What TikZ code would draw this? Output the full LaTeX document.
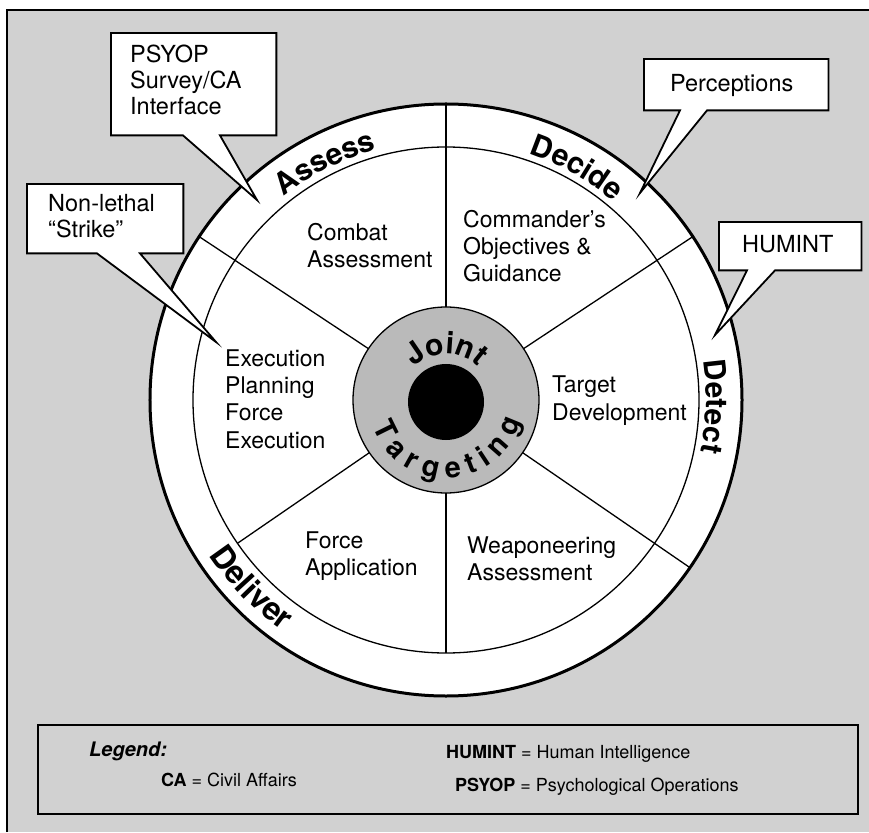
\documentclass[tikz,border=0pt]{standalone}
\usepackage{fontspec}
\setmainfont{TeX Gyre Heros}
\usetikzlibrary{decorations.text}
\definecolor{paper}{gray}{0.82}
\definecolor{hub}{gray}{0.73}

\tikzset{
  rim/.style={line width=3pt},
  ring/.style={line width=1.3pt},
  cell/.style={anchor=base west, align=left, inner sep=0pt, font=\fontsize{23}{27}\selectfont},
  balloon/.style={draw=none, inner sep=0pt, anchor=north west},
  bubble/.style={fill=white, line width=1.8pt, line join=miter},
  bubtext/.style={anchor=base west, align=left, inner sep=0pt, font=\fontsize{23.5}{26}\selectfont},
  legtext/.style={anchor=base west, inner sep=0pt, font=\fontsize{18}{20}\selectfont},
}
% curved label: [size] start angle, end angle, radius, text
\newcommand\arclabel[5][30]{\path[decorate,decoration={text along path,text align=center,
  text={|\fontsize{#1}{#1}\selectfont\bfseries|#5}}] (#2:#4) arc[start angle=#2,end angle=#3,radius=#4];}

\begin{document}
\begin{tikzpicture}[x=1pt,y=1pt]
    \useasboundingbox (-446,-432) rectangle (423,400);
    \fill[paper] (-439,-432) rectangle (423,390);
    \draw[line width=1.5pt] (-439,-432) -- (-439,390) -- (423,390);

    % the wheel
    \filldraw[fill=white, rim] (0,0) circle[radius=296];
    \draw[ring] (0,0) circle[radius=253];
    \foreach \a in {90,33.5,146.5,-34.5}
        \draw[ring] (\a:93) -- (\a:296);
    \foreach \a in {214.5,270}
        \draw[ring] (\a:93) -- (\a:253);
    \filldraw[fill=hub, ring] (0,0) circle[radius=93];
    \fill (0,-2) circle[radius=38];

    \arclabel[30]{180}{0}{46}{Joint}
    \arclabel[29]{182}{362}{78}{T a r g e t i n g}
    \arclabel{167}{67}{260}{Assess}
    \arclabel{110.6}{10.6}{260}{Decide}
    \arclabel{48.6}{-51.4}{260}{Detect}
    \arclabel[32]{174}{274}{283}{Deliver}

    % base anchor sits on the last line
    \node[cell] (combat) at (-139,132) {Combat\\Assessment};
    \node[cell] (guidance) at (17,118) {Commander's\\Objectives \&\\Guidance};
    \node[cell] (execution) at (-221,-48) {Execution\\Planning\\Force\\Execution};
    \node[cell] (target) at (106,-20) {Target\\Development};
    \node[cell] (force) at (-141,-175) {Force\\Application};
    \node[cell] (weapon) at (21,-180) {Weaponeering\\Assessment};

    % callouts
    \node[balloon, minimum width=165pt, minimum height=102pt] (psyop) at (-335,367) {};
    \coordinate (psyoptip) at (-189,200);
    \filldraw[bubble] (psyop.south west) -- (psyop.north west) -- (psyop.north east) -- (psyop.south east)
        -- ([xshift=109pt]psyop.south west) -- (psyoptip) -- ([xshift=72pt]psyop.south west) -- cycle;
    \node[bubtext] (psyoptext) at (-316,285) {PSYOP\\Survey/CA\\Interface};

    \node[balloon, minimum width=184pt, minimum height=51pt] (percep) at (198,341) {};
    \coordinate (perceptip) at (194,207);
    \filldraw[bubble] (percep.south west) -- (percep.north west) -- (percep.north east) -- (percep.south east)
        -- ([xshift=63pt]percep.south west) -- (perceptip) -- ([xshift=36pt]percep.south west) -- cycle;
    \node[bubtext] (perceptext) at (224,308) {Perceptions};

    \node[balloon, minimum width=156pt, minimum height=69pt] (strike) at (-419,216) {};
    \coordinate (striketip) at (-230,58);
    \filldraw[bubble] (strike.south west) -- (strike.north west) -- (strike.north east) -- (strike.south east)
        -- ([xshift=113pt]strike.south west) -- (striketip) -- ([xshift=70pt]strike.south west) -- cycle;
    \node[bubtext] (striketext) at (-398,162) {Non-lethal\\“Strike”};

    \node[balloon, minimum width=142pt, minimum height=48pt] (humint) at (273,178) {};
    \coordinate (huminttip) at (269,65);
    \filldraw[bubble] (humint.south west) -- (humint.north west) -- (humint.north east) -- (humint.south east)
        -- ([xshift=56pt]humint.south west) -- (huminttip) -- ([xshift=28pt]humint.south west) -- cycle;
    \node[bubtext] (huminttext) at (296,147) {HUMINT};

    % legend
    \draw[line width=1.5pt] (-408,-325) rectangle (412,-414);
    \node[legtext, font=\fontsize{20}{22}\selectfont\bfseries\itshape] (legend) at (-357,-356) {Legend:};
    \node[legtext] (leg1) at (-285,-386) {\textbf{CA} = Civil Affairs};
    \node[legtext] (leg2) at (0,-358) {\textbf{HUMINT} = Human Intelligence};
    \node[legtext] (leg3) at (9,-391) {\textbf{PSYOP} = Psychological Operations};
\end{tikzpicture}
\end{document}
